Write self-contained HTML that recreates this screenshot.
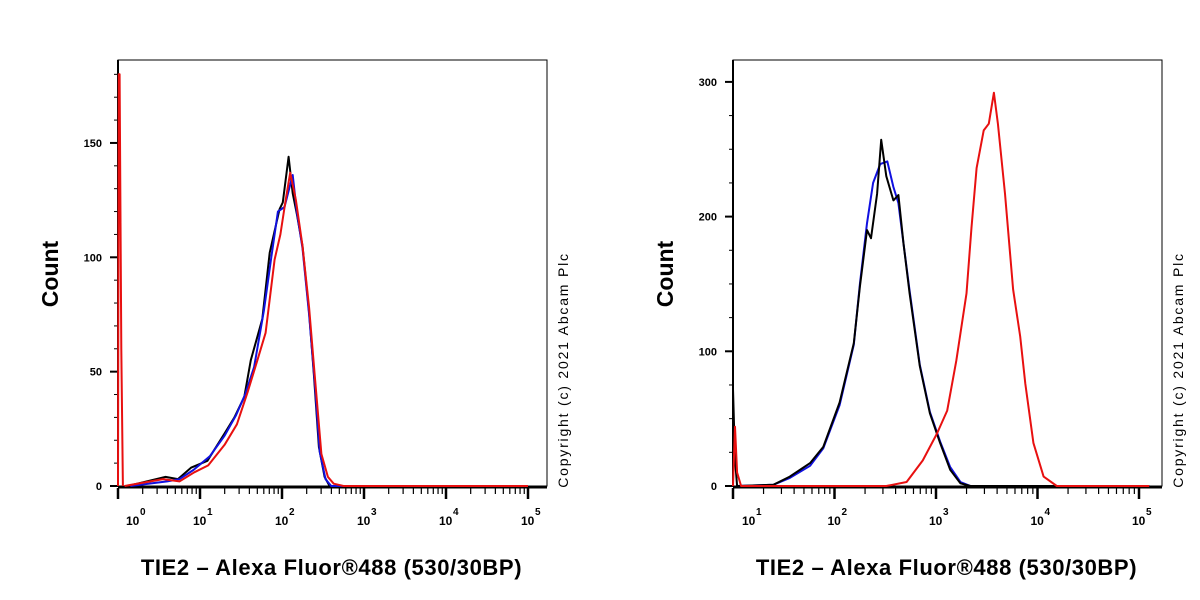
<!DOCTYPE html>
<html><head><meta charset="utf-8">
<style>
html,body{margin:0;padding:0;background:#fff;}
svg{display:block;font-family:"Liberation Sans",Arial,sans-serif;}
</style></head>
<body>
<svg id="fig" width="1200" height="600" viewBox="0 0 1200 600">
<rect x="0" y="0" width="1200" height="600" fill="#fff"/>
</svg>
<script>
// ---------- Left chart data (x = log10 fluorescence, y = count) ----------
const leftBlackX = [0.12,0.58,0.73,0.89,1.09,1.30,1.42,1.54,1.62,1.76,1.85,1.97,2.01,2.08,2.13,2.18,2.25,2.33,2.39,2.45,2.52,2.58,5.0];
const leftBlackY = [0,4,3,8,11,23,30,39,55,73,102,121,124,144,128,119,105,76,48,17,4,0,0];
const leftBlueX = [0.15,0.60,0.75,0.92,1.12,1.30,1.44,1.55,1.66,1.78,1.87,1.95,2.03,2.13,2.18,2.25,2.33,2.40,2.46,2.53,2.60,5.0];
const leftBlueY = [0,2,3,7,13,22,31,40,52,77,100,120,122,136,120,104,75,45,15,3,0,0];
const leftRedX = [0.08,0.55,0.75,0.93,1.10,1.30,1.45,1.58,1.70,1.80,1.91,1.98,2.04,2.10,2.17,2.25,2.33,2.40,2.48,2.56,2.63,2.75,5.0];
const leftRedY = [0,3,2,6,9,18,27,41,55,67,99,110,124,137,125,105,78,48,14,4,1,0,0];
const leftSpikeX = [0.0,0.01,0.02,0.04,0.06];
const leftSpikeY = [0,180,180,60,0];
const leftYTicks = [0,50,100,150];
// ---------- Right chart data ----------
const rightBlackX = [1.0,1.02,1.04,1.40,1.56,1.68,1.76,1.89,2.05,2.19,2.25,2.32,2.36,2.42,2.46,2.51,2.58,2.63,2.68,2.74,2.84,2.94,3.04,3.14,3.24,3.34,5.1];
const rightBlackY = [72,20,0,1,7,13,17,29,62,106,148,190,184,217,257,230,212,216,180,143,89,54,32,12,2,0,0];
const rightBlueX = [1.04,1.40,1.56,1.76,1.89,2.05,2.19,2.25,2.32,2.38,2.45,2.52,2.58,2.63,2.68,2.74,2.84,2.94,3.04,3.14,3.24,3.34,5.1];
const rightBlueY = [0,1,6,15,28,60,105,150,195,225,239,241,222,210,180,145,90,55,33,14,3,0,0];
const rightRedX = [1.0,1.02,1.04,1.08,2.51,2.71,2.87,3.01,3.11,3.20,3.30,3.35,3.40,3.47,3.52,3.57,3.61,3.68,3.76,3.83,3.88,3.96,4.06,4.19,5.1];
const rightRedY = [0,44,10,0,0,3,19,39,56,93,143,192,236,264,269,292,269,217,146,111,76,32,7,0,0];
const rightYTicks = [0,100,200,300];

const NS="http://www.w3.org/2000/svg";
const svg=document.getElementById('fig');
function mk(tag,attrs,parent){const e=document.createElementNS(NS,tag);for(const k in attrs)e.setAttribute(k,attrs[k]);(parent||svg).appendChild(e);return e;}

function drawChart(cfg){
  const g=mk('g',{});
  
  
  const sx=v=>cfg.x0+(v-cfg.lmin)*cfg.dec;
  const sy=v=>cfg.yb-v*cfg.k;
  const fr=mk('rect',{x:cfg.x0,y:60,width:cfg.x1-cfg.x0,height:cfg.yb-60,fill:'none',stroke:'#000','stroke-width':1},g);
  
  
  mk('line',{x1:cfg.x0,y1:cfg.yb+1,x2:cfg.x1,y2:cfg.yb+1,stroke:'#000','stroke-width':3},g);
  mk('line',{x1:cfg.x0,y1:60,x2:cfg.x0,y2:cfg.yb+1,stroke:'#000','stroke-width':2},g);
  for(let v=0; v*cfg.k<=cfg.yb-60; v+=cfg.minor){
    const major=v%cfg.major===0;
    mk('line',{x1:cfg.x0-(major?8:4),y1:sy(v),x2:cfg.x0,y2:sy(v),stroke:'#000','stroke-width':major?2:1},g);
  }
  cfg.yticks.forEach(v=>{
    const t=mk('text',{x:cfg.x0-16,y:sy(v)+4,'text-anchor':'end','font-size':11,'font-weight':'bold'},g);
    t.textContent=v;
    
    
  });
  for(let d=cfg.lmin; d<5; d++){
    for(let m=1;m<=9;m++){
      const lv=d+Math.log10(m);
      if(sx(lv)>cfg.x1)continue;
      const major=m===1;
      mk('line',{x1:sx(lv),y1:cfg.yb+2,x2:sx(lv),y2:cfg.yb+(major?13:8),stroke:'#000','stroke-width':major?2.5:1.2},g);
    }
  }
  mk('line',{x1:sx(5),y1:cfg.yb+2,x2:sx(5),y2:cfg.yb+13,stroke:'#000','stroke-width':2.5},g);
  for(let d=cfg.lmin; d<=5; d++){
    const px=sx(d)+(d===cfg.lmin?cfg.firstOff:-7);
    const t=mk('text',{x:px,y:cfg.yb+39,'font-size':12,'font-weight':'bold'},g);
    t.textContent='10';
    
    
    const s=mk('text',{x:px+14,y:cfg.yb+29,'font-size':10,'font-weight':'bold'},g);
    s.textContent=String(d);
  }
  cfg.series.forEach(sr=>{
    let d='';
    sr.x.forEach((v,i)=>{d+=(i?'L':'M')+sx(v).toFixed(1)+','+sy(sr.y[i]).toFixed(1);});
    const p=mk('path',{d:d,fill:'none',stroke:sr.color,'stroke-width':2,'stroke-linejoin':'round'},g);
    
    
  });
  const yt=mk('text',{x:0,y:0,transform:`translate(${cfg.x0-60},${274}) rotate(-90)`,'text-anchor':'middle','font-size':23,'font-weight':'bold'},g);
  yt.textContent='Count';
  
  
  const xt=mk('text',{x:(cfg.x0+cfg.x1)/2-1,y:575,'text-anchor':'middle','font-size':22,'font-weight':'bold','letter-spacing':'0.6'},g);
  xt.textContent='TIE2 \u2013 Alexa Fluor\u00AE488 (530/30BP)';
  
  
  const cp=mk('text',{x:0,y:0,transform:`translate(${cfg.x1+21},${370}) rotate(-90)`,'text-anchor':'middle','font-size':14,'letter-spacing':'1.8'},g);
  cp.textContent='Copyright (c) 2021 Abcam Plc';
  
  
}

drawChart({name:'left-histogram',x0:118,x1:547,yb:486,lmin:0,dec:82,k:2.287,minor:10,major:50,yticks:leftYTicks,firstOff:8,
  series:[
    {name:'black-series',color:'#000',x:leftBlackX,y:leftBlackY},
    {name:'blue-series',color:'#1010e0',x:leftBlueX,y:leftBlueY},
    {name:'red-series',color:'#e81010',x:leftRedX,y:leftRedY},
    {name:'red-spike',color:'#e81010',x:leftSpikeX,y:leftSpikeY}
  ]});
drawChart({name:'right-histogram',x0:733,x1:1162,yb:486,lmin:1,dec:101.5,k:1.347,minor:25,major:100,yticks:rightYTicks,firstOff:9,
  series:[
    {name:'blue-series',color:'#1010e0',x:rightBlueX,y:rightBlueY},
    {name:'black-series',color:'#000',x:rightBlackX,y:rightBlackY},
    {name:'red-series',color:'#e81010',x:rightRedX,y:rightRedY}
  ]});
</script>
</body></html>
